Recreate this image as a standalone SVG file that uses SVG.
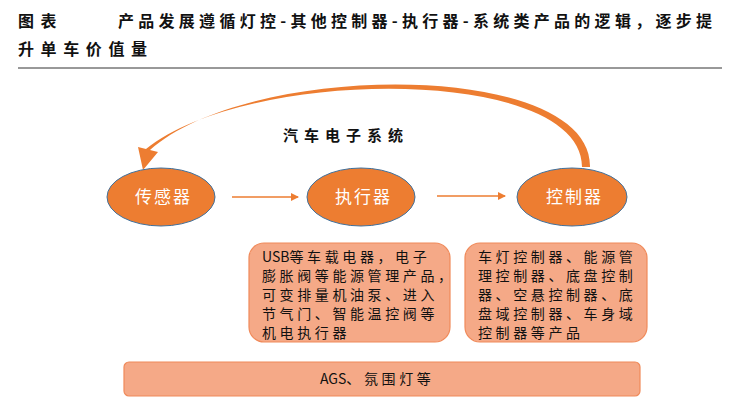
<svg xmlns="http://www.w3.org/2000/svg" width="734" height="405" viewBox="0 0 734 405">
<defs>
<style>
.t{font-family:"Noto Sans CJK SC","Noto Sans",sans-serif}
.ell{fill:#ED7D31;stroke:#41719C;stroke-width:1}
.el{fill:#fff;font-size:17px;letter-spacing:2px}
.box{fill:#F5A987;stroke:#F08A5A;stroke-width:1.2}
.bt{font-size:14px;fill:#111;letter-spacing:3.6px}
.ln{stroke:#ED7D31;fill:none}
</style>
<marker id="ah" markerWidth="8" markerHeight="8" refX="7" refY="4" orient="auto" markerUnits="userSpaceOnUse"><path d="M0,0 L8,4 L0,8 z" fill="#ED7D31"/></marker>
</defs>
<rect width="734" height="405" fill="#fff"/>
<text class="t" x="18" y="27" font-size="16" font-weight="bold" fill="#111" letter-spacing="6.6">图表</text>
<text class="t" x="118" y="27" font-size="16" font-weight="bold" fill="#111" textLength="594" lengthAdjust="spacing">产品发展遵循灯控-其他控制器-执行器-系统类产品的逻辑，逐步提</text>
<text class="t" x="18" y="55" font-size="16" font-weight="bold" fill="#111" letter-spacing="6.6">升单车价值量</text>
<line x1="18" y1="68" x2="722" y2="68" stroke="#333" stroke-width="1"/>
<text class="t" x="283" y="141" font-size="15" font-weight="bold" fill="#111" letter-spacing="6">汽车电子系统</text>
<g id="connectors">
<path d="M590,167 C592,60 250,60 150,150 L158,152 L143,170 L138,147 L146,149 C250,66 582,66 582,167 Z" fill="#ED7D31"/>
<line class="ln" x1="232" y1="197" x2="298" y2="197" marker-end="url(#ah)" stroke-width="1.5"/>
<line class="ln" x1="437" y1="196" x2="505" y2="196" marker-end="url(#ah)" stroke-width="1.5"/>
</g>
<g id="n1"><ellipse class="ell" cx="161" cy="197" rx="54" ry="29"/><text class="t el" x="135" y="203">传感器</text></g>
<g id="n2"><ellipse class="ell" cx="361" cy="197" rx="54" ry="29"/><text class="t el" x="335" y="203">执行器</text></g>
<g id="n3"><ellipse class="ell" cx="572" cy="197" rx="55" ry="29"/><text class="t el" x="546" y="203">控制器</text></g>
<g id="b1"><rect class="box" x="249" y="243" width="201" height="99" rx="15"/>
<text class="t bt"><tspan x="262" y="262" letter-spacing="0">USB</tspan><tspan>等车载电器，电子</tspan><tspan x="262" y="281">膨胀阀等能源管理产品，</tspan><tspan x="262" y="300">可变排量机油泵、进入</tspan><tspan x="262" y="319">节气门、智能温控阀等</tspan><tspan x="262" y="338">机电执行器</tspan></text></g>
<g id="b2"><rect class="box" x="465" y="243" width="182" height="99" rx="15"/>
<text class="t bt"><tspan x="478" y="262">车灯控制器、能源管</tspan><tspan x="478" y="281">理控制器、底盘控制</tspan><tspan x="478" y="300">器、空悬控制器、底</tspan><tspan x="478" y="319">盘域控制器、车身域</tspan><tspan x="478" y="338">控制器等产品</tspan></text></g>
<g id="b3"><rect class="box" x="124" y="362" width="516" height="34" rx="5"/>
<text class="t bt" x="320" y="384" letter-spacing="2"><tspan letter-spacing="0">AGS</tspan>、氛围灯等</text></g>
</svg>
